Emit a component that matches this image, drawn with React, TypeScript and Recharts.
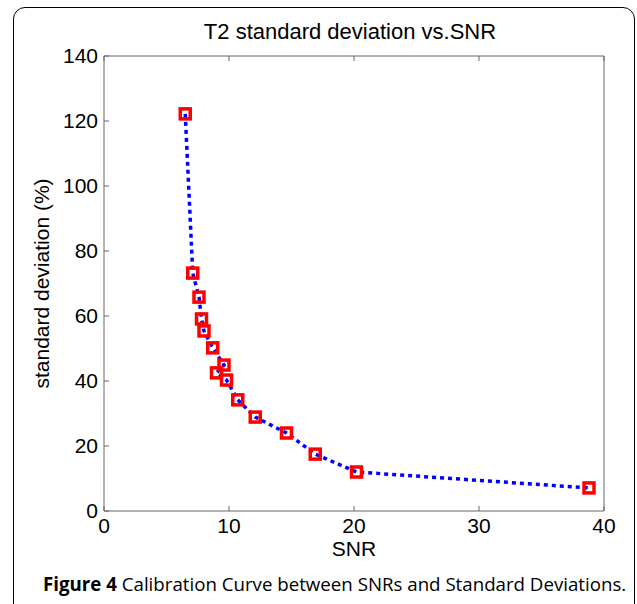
import { LineChart, Line, XAxis, YAxis, Label } from "recharts";

const snr = [6.5, 7.1, 7.6, 7.8, 8.0, 8.7, 9.6, 9.0, 9.8, 10.7, 12.1, 14.6, 16.9, 20.2, 38.8];
const stdDev = [122.2, 73.2, 65.8, 59.1, 55.4, 50.2, 44.9, 42.5, 40.3, 34.2, 28.9, 24.0, 17.5, 12.0, 7.1];
const xTicks = [0, 10, 20, 30, 40];
const yTicks = [0, 20, 40, 60, 80, 100, 120, 140];

const data = snr.map((x, i) => ({ snr: x, sd: stdDev[i] }));

const axisFont = "'Liberation Sans', Arial, sans-serif";
const tickStyle = { fontSize: 21, fill: "#000", fontFamily: axisFont };

function SquareDot(props: any) {
  const { cx, cy, index } = props;
  if (cx == null || cy == null) return null;
  return (
    <rect
      key={index}
      x={cx - 5}
      y={cy - 5}
      width={10}
      height={10}
      fill="none"
      stroke="#ff0000"
      strokeWidth={3.5}
    />
  );
}

export default function App() {
  return (
    <div
      style={{
        position: "absolute",
        left: 0,
        top: 0,
        width: 637,
        height: 604,
        background: "#fff",
        overflow: "hidden",
      }}
    >
      {/* figure frame */}
      <div
        style={{
          position: "absolute",
          left: 13,
          top: 7,
          width: 620,
          height: 620,
          border: "1.5px solid #000",
          borderRadius: 12,
        }}
      />

      <div
        style={{
          position: "absolute",
          left: 0,
          top: 19,
          width: 700,
          textAlign: "center",
          fontFamily: axisFont,
          fontSize: 22,
          color: "#000",
        }}
      >
        T2 standard deviation vs.SNR
      </div>

      <div style={{ position: "absolute", left: 0, top: 0 }}>
        <LineChart
          width={637}
          height={604}
          data={data}
          margin={{ top: 55, right: 32, bottom: 0, left: 0 }}
        >
          <XAxis
            xAxisId="b"
            dataKey="snr"
            type="number"
            domain={[0, 40]}
            ticks={xTicks}
            height={93}
            stroke="#666"
            tickSize={-5}
            tickMargin={12}
            tick={tickStyle}
            tickLine={{ stroke: "#666" }}
          >
            <Label
              value="SNR"
              position="insideTop"
              offset={30}
              style={{ fontSize: 21, fill: "#000", fontFamily: axisFont }}
            />
          </XAxis>
          <XAxis
            xAxisId="t"
            dataKey="snr"
            type="number"
            orientation="top"
            domain={[0, 40]}
            ticks={xTicks}
            height={1}
            stroke="#666"
            tickSize={-5}
            tickLine={{ stroke: "#666" }}
            tickFormatter={() => ""}
          />
          <YAxis
            yAxisId="l"
            type="number"
            domain={[0, 140]}
            ticks={yTicks}
            width={104}
            stroke="#666"
            tickSize={-5}
            tickMargin={11}
            tick={tickStyle}
            tickLine={{ stroke: "#666" }}
          >
            <Label
              value="standard deviation (%)"
              angle={-90}
              position="insideLeft"
              offset={42}
              style={{
                fontSize: 21,
                fill: "#000",
                fontFamily: axisFont,
                textAnchor: "middle",
              }}
            />
          </YAxis>
          <YAxis
            yAxisId="r"
            type="number"
            orientation="right"
            domain={[0, 140]}
            ticks={yTicks}
            width={1}
            stroke="#666"
            tickSize={-5}
            tickLine={{ stroke: "#666" }}
            tickFormatter={() => ""}
          />
          <Line
            xAxisId="b"
            yAxisId="l"
            dataKey="sd"
            type="linear"
            stroke="#0000ff"
            strokeWidth={3.5}
            strokeDasharray="4 4"
            dot={<SquareDot />}
            activeDot={false}
            isAnimationActive={false}
          />
        </LineChart>
      </div>

      <div
        style={{
          position: "absolute",
          left: 43,
          top: 571,
          whiteSpace: "nowrap",
          fontFamily: "'Open Sans', sans-serif",
          fontSize: 18.7,
          color: "#000",
        }}
      >
        <b>Figure 4</b> Calibration Curve between SNRs and Standard Deviations.
      </div>
    </div>
  );
}
